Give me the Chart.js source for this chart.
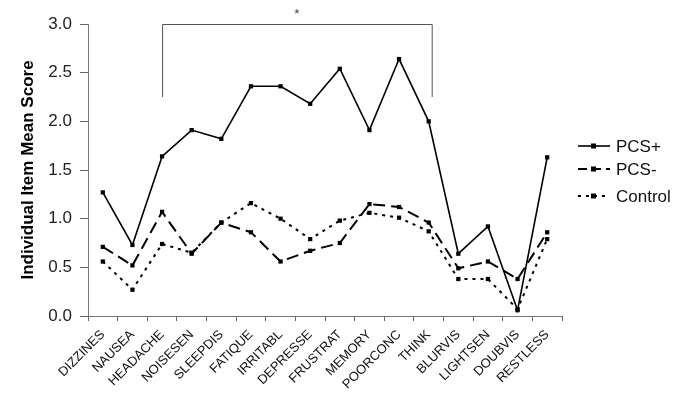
<!DOCTYPE html>
<html lang="en">
  <head>
    <meta charset="UTF-8" />
    <title>Item scores</title>
    <style>
      body { margin: 0; background: #fff; }
      #wrap { width: 685px; height: 408px; }
    </style>
  </head>
  <body>
    <div id="wrap"><canvas id="lienzo"></canvas></div>

    <script src="https://cdn.jsdelivr.net/npm/chart.js"></script>

    <script>
      const items = ["DIZZINES", "NAUSEA", "HEADACHE", "NOISESEN", "SLEEPDIS", "FATIQUE", "IRRITABL", "DEPRESSE",
        "FRUSTRAT", "MEMORY", "POORCONC", "THINK", "BLURVIS", "LIGHTSEN", "DOUBVIS", "RESTLESS"];
      const pcsPlus = [1.27, 0.73, 1.64, 1.91, 1.82, 2.36, 2.36, 2.18, 2.54, 1.91, 2.64, 2.00, 0.64, 0.92, 0.06, 1.63];
      const pcsMinus = [0.71, 0.52, 1.07, 0.64, 0.96, 0.86, 0.56, 0.67, 0.75, 1.15, 1.12, 0.96, 0.49, 0.56, 0.38, 0.86];
      const control = [0.56, 0.27, 0.74, 0.65, 0.96, 1.16, 1.00, 0.79, 0.98, 1.06, 1.01, 0.87, 0.38, 0.38, 0.07, 0.79];
      const yTicks = [0, 0.5, 1, 1.5, 2, 2.5, 3];
      const bracketFrom = "HEADACHE";
      const bracketTo = "THINK";

      const fuente = "'Liberation Sans', Arial, sans-serif";

      // bracket with the asterisk and the legend on the right
      const extras = {
        id: "extras",
        afterDraw(chart) {
          const ctx = chart.ctx;
          const x = chart.scales.x, y = chart.scales.y;
          const x1 = x.getPixelForValue(items.indexOf(bracketFrom));
          const x2 = x.getPixelForValue(items.indexOf(bracketTo)) + 3;
          const yTop = y.getPixelForValue(3);
          const yLow = y.getPixelForValue(2.25);
          ctx.save();
          ctx.strokeStyle = "#555";
          ctx.lineWidth = 1;
          ctx.beginPath();
          ctx.moveTo(x1 + 0.5, yLow);
          ctx.lineTo(x1 + 0.5, yTop + 0.5);
          ctx.lineTo(x2 + 0.5, yTop + 0.5);
          ctx.lineTo(x2 + 0.5, yLow);
          ctx.stroke();
          ctx.fillStyle = "#444";
          ctx.font = "13px " + fuente;
          ctx.textAlign = "center";
          ctx.textBaseline = "middle";
          ctx.fillText("*", (x1 + x2) / 2, 14);

          const filas = [146, 169, 196];
          chart.data.datasets.forEach((ds, i) => {
            const yy = filas[i];
            ctx.strokeStyle = "#000";
            ctx.lineWidth = ds.borderWidth;
            ctx.setLineDash(ds.legendDash);
            ctx.beginPath();
            ctx.moveTo(578, yy);
            ctx.lineTo(610, yy);
            ctx.stroke();
            ctx.setLineDash([]);
            ctx.fillStyle = "#000";
            ctx.fillRect(591, yy - 2.5, 5, 5);
            ctx.fillStyle = "#111";
            ctx.font = "17px " + fuente;
            ctx.textAlign = "left";
            ctx.fillText(ds.label, 616, yy + 1);
          });
          ctx.restore();
        },
      };

      const lienzo = document.querySelector("#lienzo");
      const grafico = new Chart(lienzo, {
        type: "line",
        data: {
          labels: items,
          datasets: [
            { label: "PCS+", data: pcsPlus, borderWidth: 1.6, borderDash: [], legendDash: [] },
            { label: "PCS-", data: pcsMinus, borderWidth: 2, borderDash: [12, 6], legendDash: [9, 5] },
            { label: "Control", data: control, borderWidth: 2, borderDash: [3, 5], legendDash: [3, 5] },
          ].map((d) => ({
            ...d,
            borderColor: "#000",
            backgroundColor: "#000",
            pointStyle: "rect",
            pointRadius: 3,
            pointBorderWidth: 0,
            tension: 0,
          })),
        },
        plugins: [extras],
        options: {
          responsive: true,
          maintainAspectRatio: false,
          animation: false,
          layout: { padding: { top: 24, right: 123, left: 0, bottom: 0 } },
          plugins: { legend: { display: false }, tooltip: { enabled: false } },
          scales: {
            x: {
              offset: true,
              afterFit(s) { s.height = 92; },
              grid: { offset: true, drawOnChartArea: false, color: "#666", tickLength: 5, tickColor: "#666" },
              border: { color: "#777", width: 1 },
              ticks: {
                autoSkip: false,
                maxRotation: 45,
                minRotation: 45,
                color: "#111",
                padding: 6,
                font: { family: fuente, size: 13 },
              },
            },
            y: {
              min: 0,
              max: 3,
              afterFit(s) { s.width = 88; },
              afterBuildTicks(s) { s.ticks = yTicks.map((v) => ({ value: v })); },
              grid: { drawOnChartArea: false, tickLength: 8, tickColor: "#666" },
              border: { color: "#777", width: 1 },
              ticks: {
                color: "#222",
                padding: 8,
                font: { family: fuente, size: 17 },
                callback: (v) => Number(v).toFixed(1),
              },
              title: {
                display: true,
                text: "Individual Item Mean Score",
                color: "#000",
                padding: { top: 18, bottom: 0 },
                font: { family: fuente, size: 17, weight: "bold" },
              },
            },
          },
        },
      });
    </script>
  </body>
</html>
